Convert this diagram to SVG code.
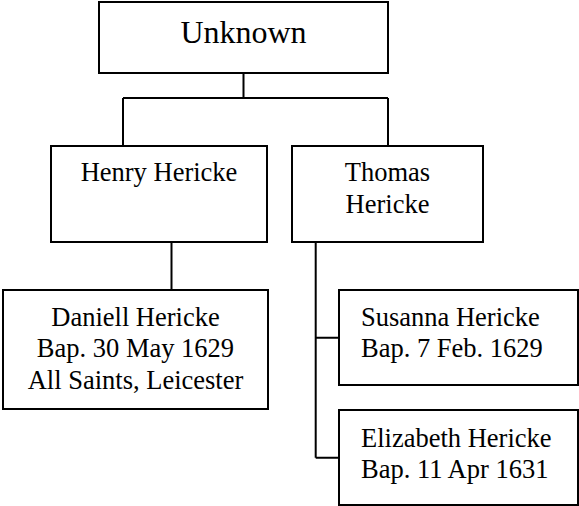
<svg xmlns="http://www.w3.org/2000/svg" width="579" height="506" viewBox="0 0 579 506">
<style>
.box{fill:#fff;stroke:#000;stroke-width:2}
.ln{fill:none;stroke:#000;stroke-width:2}
text{font-family:"Liberation Serif","Times New Roman",serif;fill:#000;font-size:26.5px}
.c{text-anchor:middle}
</style>
<rect width="579" height="506" fill="#fff"/>
<g id="connectors">
<path class="ln" d="M243.5,73 V98 M123,98 H388 M123,98 V146 M388,98 V146"/>
<path class="ln" d="M171.5,242 V290"/>
<path class="ln" d="M315.7,242 V457.7 M315.7,337.7 H339 M315.7,457.7 H339"/>
</g>
<g id="unknown">
<rect class="box" x="99" y="2" width="289" height="71"/>
<text class="c" x="243.5" y="43" style="font-size:32px">Unknown</text>
</g>
<g id="henry">
<rect class="box" x="51" y="146" width="216" height="96"/>
<text class="c" x="159" y="181">Henry Hericke</text>
</g>
<g id="thomas">
<rect class="box" x="292" y="146" width="191" height="96"/>
<text class="c" x="387.5" y="181">Thomas</text>
<text class="c" x="387.5" y="212.7">Hericke</text>
</g>
<g id="daniell">
<rect class="box" x="3" y="290" width="265" height="119"/>
<text class="c" x="135.5" y="325.5">Daniell Hericke</text>
<text class="c" x="135.5" y="357">Bap. 30 May 1629</text>
<text class="c" x="135.5" y="388.5">All Saints, Leicester</text>
</g>
<g id="susanna">
<rect class="box" x="339" y="290" width="239" height="95"/>
<text x="361" y="325.7">Susanna Hericke</text>
<text x="361" y="357.3">Bap. 7 Feb. 1629</text>
</g>
<g id="elizabeth">
<rect class="box" x="339" y="410" width="239" height="95"/>
<text x="361" y="446.5">Elizabeth Hericke</text>
<text x="361" y="477.5">Bap. 11 Apr 1631</text>
</g>
</svg>
